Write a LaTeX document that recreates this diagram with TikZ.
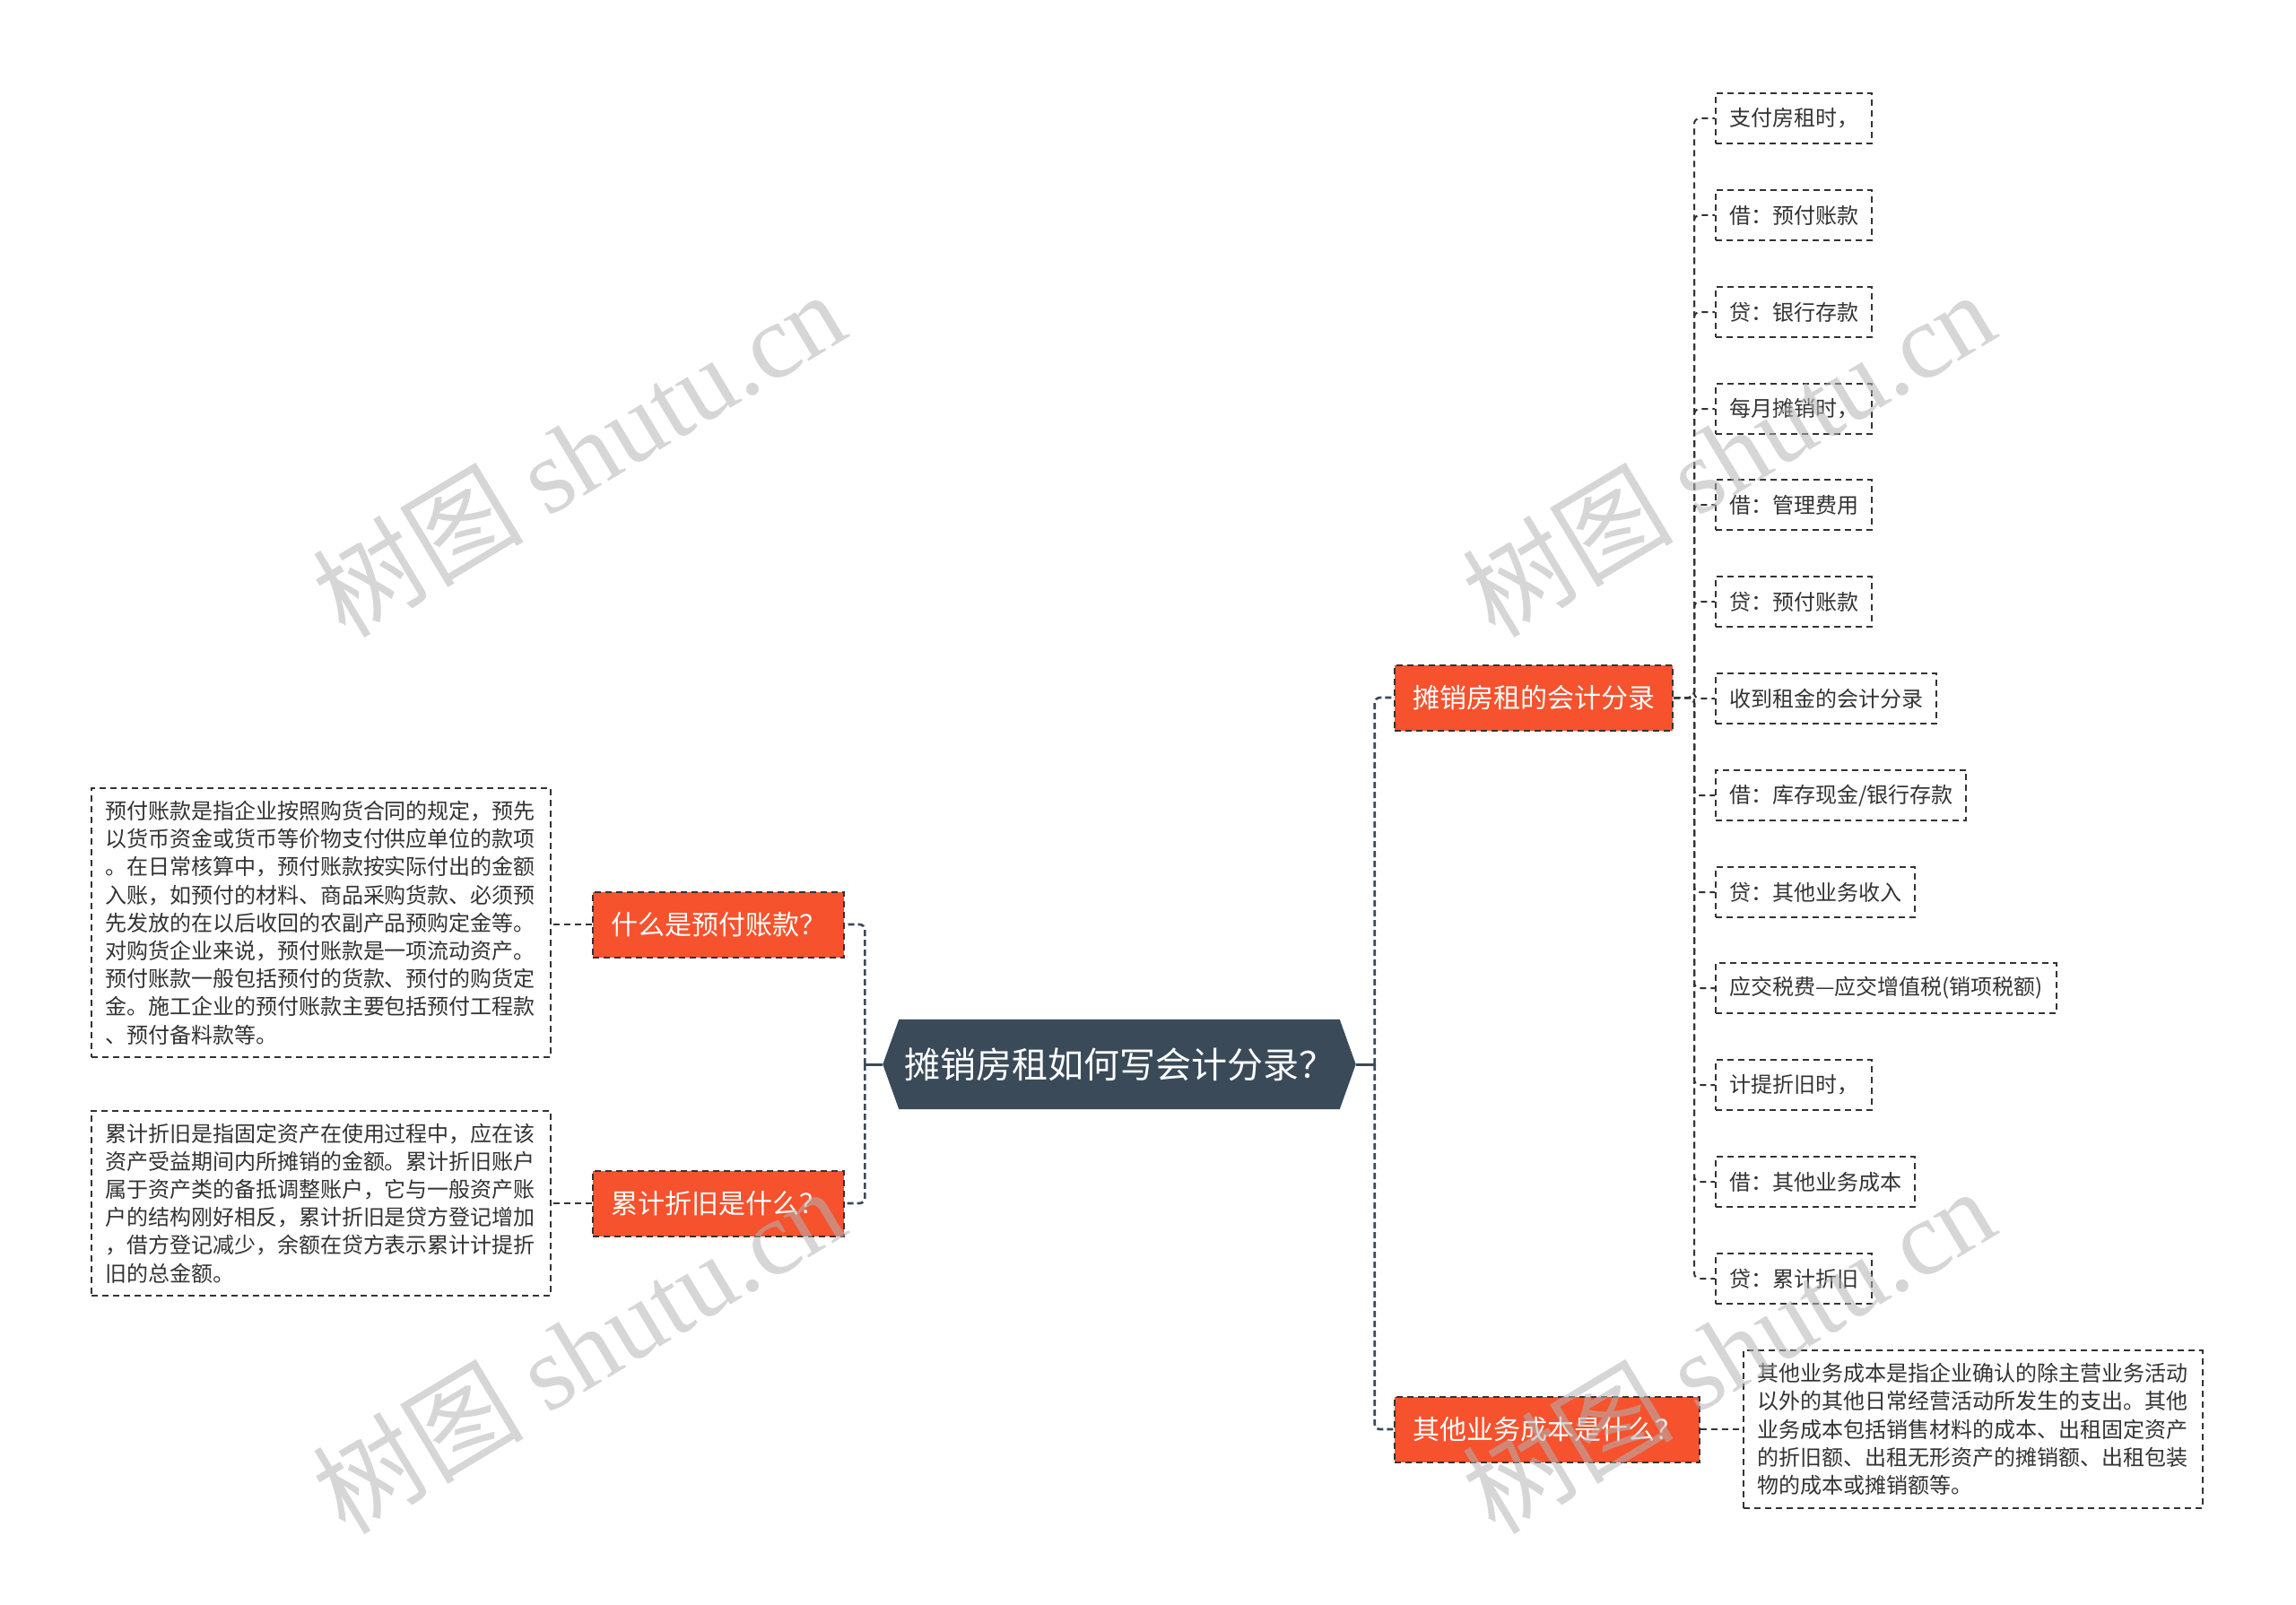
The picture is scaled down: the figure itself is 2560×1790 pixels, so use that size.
\documentclass[tikz,border=0pt]{standalone}
\usepackage{fontspec}
\setmainfont{Noto Sans CJK SC}
\newfontfamily\wmserif{Liberation Serif}
\usetikzlibrary{calc,backgrounds}
\definecolor{orangec}{HTML}{F5522D}
\definecolor{rootc}{HTML}{3A4A58}
\definecolor{linec}{HTML}{333333}
\definecolor{wmc}{HTML}{B4B4B4}
\begin{document}
\begin{tikzpicture}[x=1pt,y=-1pt,
  dashln/.style={line width=2pt, dash pattern=on 7pt off 5pt},
  conn/.style={dashln, draw=linec, rounded corners=6pt},
  mainconn/.style={line width=2.6pt, draw=rootc, dash pattern=on 7pt off 4pt, rounded corners=6pt},
  stub/.style={line width=3pt, draw=rootc},
  leaf/.style={dashln, draw=linec, fill=white, text=linec, font=\fontsize{24}{30}\selectfont, inner xsep=15pt, inner ysep=0pt, minimum height=56pt, anchor=west},
  desc/.style={dashln, draw=linec, fill=white, text=linec, font=\fontsize{24}{31.2}\selectfont, inner xsep=15pt, inner ysep=14pt, text width=482pt, align=left},
  topic/.style={dashln, draw=linec, fill=orangec, text=white, font=\fontsize{30}{36}\selectfont, inner xsep=20pt, inner ysep=0pt, minimum height=73pt},
  rootnode/.style={text=white, font=\fontsize{40}{46}\selectfont, minimum width=491pt, minimum height=100pt, inner sep=0pt},
  wm/.style={text=wmc, text opacity=0.55, rotate=31, inner sep=0pt}
]
\useasboundingbox (0,0) rectangle (2560,1790);

% root
\node[rootnode] (root) at (1248,1187) {摊销房租如何写会计分录？};
\coordinate (rootL) at ($(root.west)+(-18,0)$);
\coordinate (rootR) at ($(root.east)+(18,0)$);
\coordinate (spL) at ($(rootL)+(-20,0)$);
\coordinate (spR) at ($(rootR)+(21,0)$);
\begin{scope}[on background layer]
  \fill[rootc] (root.north west) -- (root.north east) -- (rootR) -- (root.south east) -- (root.south west) -- (rootL) -- cycle;
\end{scope}

% level-1 topics
\node[topic, anchor=west] (r1) at (1554,778) {摊销房租的会计分录};
\node[topic, anchor=west] (r2) at (1554,1594) {其他业务成本是什么？};
\node[topic, anchor=east] (q1) at (942,1031) {什么是预付账款？};
\node[topic, anchor=east] (q2) at (942,1342) {累计折旧是什么？};

% descriptions
\node[desc, anchor=east] (d1) at (615,1029) {预付账款是指企业按照购货合同的规定，预先\\以货币资金或货币等价物支付供应单位的款项\\。在日常核算中，预付账款按实际付出的金额\\入账，如预付的材料、商品采购货款、必须预\\先发放的在以后收回的农副产品预购定金等。\\对购货企业来说，预付账款是一项流动资产。\\预付账款一般包括预付的货款、预付的购货定\\金。施工企业的预付账款主要包括预付工程款\\、预付备料款等。};
\node[desc, anchor=east] (d2) at (615,1342) {累计折旧是指固定资产在使用过程中，应在该\\资产受益期间内所摊销的金额。累计折旧账户\\属于资产类的备抵调整账户，它与一般资产账\\户的结构刚好相反，累计折旧是贷方登记增加\\，借方登记减少，余额在贷方表示累计计提折\\旧的总金额。};
\node[desc, anchor=west] (d3) at (1943,1594) {其他业务成本是指企业确认的除主营业务活动\\以外的其他日常经营活动所发生的支出。其他\\业务成本包括销售材料的成本、出租固定资产\\的折旧额、出租无形资产的摊销额、出租包装\\物的成本或摊销额等。};

% leaves
\node[leaf] (l1) at (1912,132) {支付房租时，};
\node[leaf] (l2) at (1912,240) {借：预付账款};
\node[leaf] (l3) at (1912,348) {贷：银行存款};
\node[leaf] (l4) at (1912,456) {每月摊销时，};
\node[leaf] (l5) at (1912,563) {借：管理费用};
\node[leaf] (l6) at (1912,671) {贷：预付账款};
\node[leaf] (l7) at (1912,779) {收到租金的会计分录};
\node[leaf] (l8) at (1912,887) {借：库存现金/银行存款};
\node[leaf] (l9) at (1912,995) {贷：其他业务收入};
\node[leaf] (l10) at (1912,1102) {应交税费—应交增值税(销项税额)};
\node[leaf] (l11) at (1912,1210) {计提折旧时，};
\node[leaf] (l12) at (1912,1318) {借：其他业务成本};
\node[leaf] (l13) at (1912,1426) {贷：累计折旧};

% connectors
\begin{scope}[on background layer]
  \draw[stub] (rootL) -- (spL);
  \draw[stub] (rootR) -- (spR);
  \draw[mainconn] (spL) |- (q1.east);
  \draw[mainconn] (spL) |- (q2.east);
  \draw[mainconn] (spR) |- (r1.west);
  \draw[mainconn] (spR) |- (r2.west);
  \draw[conn] (q1.west) -- (q1.west -| d1.east);
  \draw[conn] (q2.west) -- (d2.east);
  \draw[conn] (r2.east) -- (d3.west);
  \foreach \i in {1,...,13}{
    \draw[conn] (r1.east) -- ++(23,0) |- (l\i.west);
  }
\end{scope}

% watermarks
\node[wm] (w1) at (645,505) {\fontsize{118}{118}\selectfont 树图 {\wmserif shutu.cn}};
\node[wm] (w2) at (1927,505) {\fontsize{118}{118}\selectfont 树图 {\wmserif shutu.cn}};
\node[wm] (w3) at (645,1505) {\fontsize{118}{118}\selectfont 树图 {\wmserif shutu.cn}};
\node[wm] (w4) at (1927,1505) {\fontsize{118}{118}\selectfont 树图 {\wmserif shutu.cn}};
\end{tikzpicture}
\end{document}
